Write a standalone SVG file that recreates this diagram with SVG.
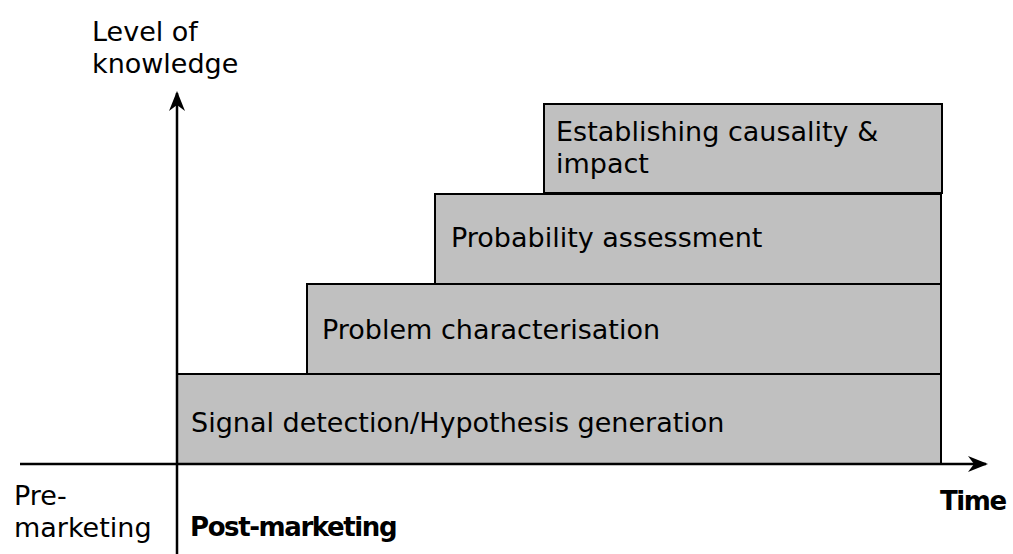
<svg xmlns="http://www.w3.org/2000/svg" width="1013" height="554" viewBox="0 0 1013 554">
<defs>
<style>
text{font-family:"DejaVu Sans","Liberation Sans",sans-serif;font-size:27px;fill:#000}
.b{font-weight:bold;font-size:26px;letter-spacing:-1.4px}
.box{fill:#c0c0c0;stroke:#000;stroke-width:2}
.ax{stroke:#000;stroke-width:2.5;fill:none}
</style>
<marker id="ah" viewBox="0 0 20 16" refX="18" refY="8" markerWidth="20" markerHeight="16" markerUnits="userSpaceOnUse" orient="auto">
<path d="M0,0 L20,8 L0,16 L6,8 Z" fill="#000"/>
</marker>
</defs>
<rect width="1013" height="554" fill="#fff"/>
<g id="n1"><rect class="box" x="177" y="374" width="764" height="90"/><text x="191" y="432">Signal detection/Hypothesis generation</text></g>
<g id="n2"><rect class="box" x="307" y="284" width="634" height="90"/><text x="322" y="339">Problem characterisation</text></g>
<g id="n3"><rect class="box" x="435" y="194" width="506" height="90"/><text x="451" y="247">Probability assessment</text></g>
<g id="n4"><rect class="box" x="544" y="104" width="398" height="89"/><text x="556" y="141">Establishing causality &amp;</text><text x="556" y="173">impact</text></g>
<g id="connectors">
<line class="ax" x1="177" y1="554" x2="177" y2="93" marker-end="url(#ah)"/>
<line class="ax" x1="20" y1="464" x2="986" y2="464" marker-end="url(#ah)"/>
</g>
<g id="labels">
<text x="92" y="41">Level of</text>
<text x="92" y="73">knowledge</text>
<text x="14" y="505">Pre-</text>
<text x="14" y="537">marketing</text>
<text class="b" x="190" y="536">Post-marketing</text>
<text class="b" x="940" y="510">Time</text>
</g>
</svg>
